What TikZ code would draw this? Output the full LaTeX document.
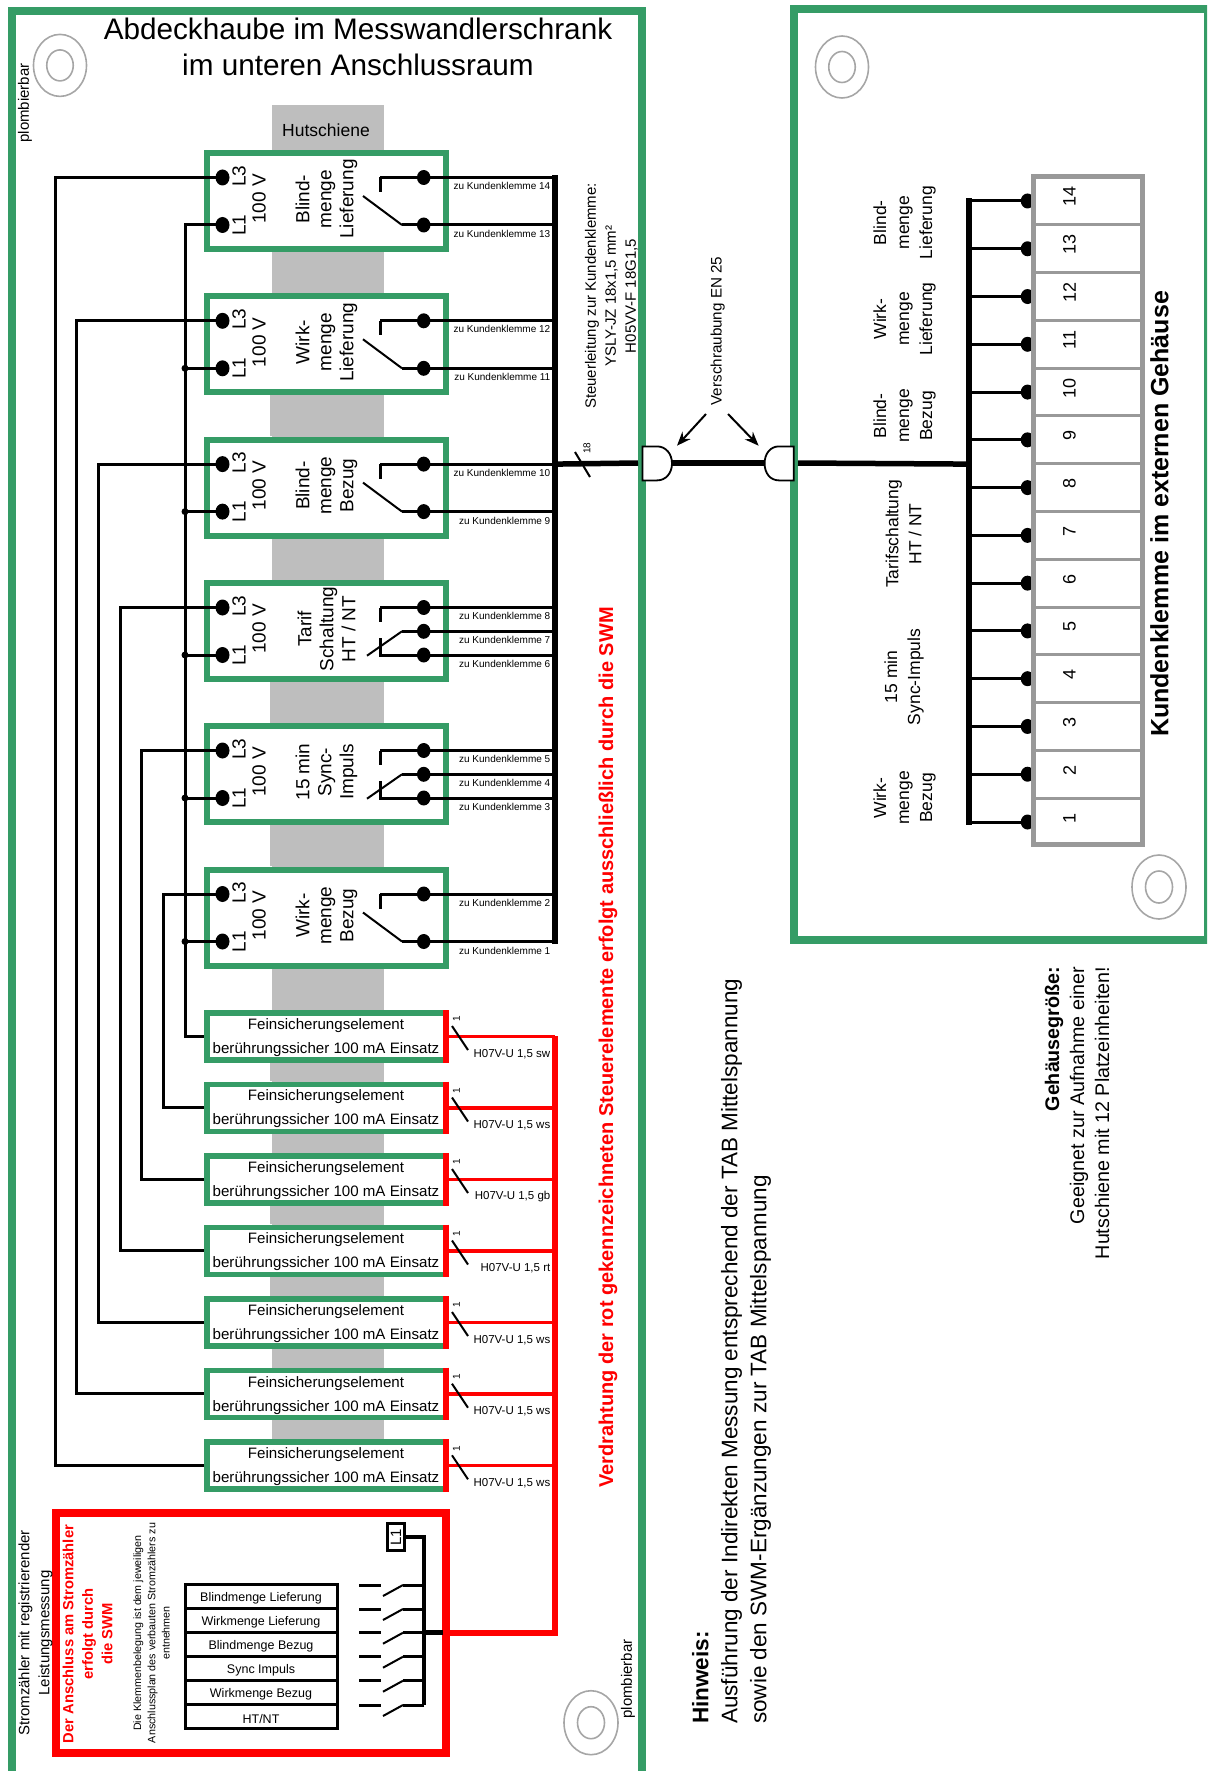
\documentclass[tikz,border=0pt]{standalone}
\usepackage{fontspec}
\setmainfont{Liberation Sans}
\usetikzlibrary{shapes.geometric,arrows.meta,calc}
\definecolor{grn}{HTML}{359C66}
\definecolor{rail}{HTML}{BEBEBE}
\definecolor{klgray}{HTML}{999999}
\definecolor{ringgray}{HTML}{A6A6A6}
\newcommand{\fsz}[2]{\fontsize{#1}{#2}\selectfont}
\tikzset{
  x=1pt,y=-1pt,
  every node/.style={inner sep=0pt},
  panel/.style={draw=grn,line width=8pt},
  blockbox/.style={draw=grn,fill=white,line width=6pt,minimum width=239pt,minimum height=96pt},
  fusebox/.style={draw=grn,fill=white,line width=5.5pt,minimum width=239pt,minimum height=47pt},
  fusetext/.style={align=center,font=\fsz{15.1}{24}},
  term/.style={ellipse,fill=black,minimum width=14pt,minimum height=16pt},
  rterm/.style={ellipse,fill=black,minimum width=13.5pt,minimum height=15pt},
  wire/.style={draw=black,line width=3pt,line join=miter},
  thinsw/.style={draw=black,line width=2pt},
  redwire/.style={draw=red,line width=3.5pt},
  vert/.style={rotate=90},
  vlabel/.style={rotate=90,font=\fsz{19}{22},align=center},
  ringo/.style={draw=ringgray,line width=1.6pt},
  zk/.style={anchor=east,font=\fsz{10}{12}},
  hz/.style={anchor=east,font=\fsz{11.5}{13}},
  rowbox/.style={draw=black,line width=3pt,minimum width=152pt,minimum height=24pt},
  rowtext/.style={font=\fsz{12.5}{14}},
  klemme/.style={draw=klgray,line width=3pt,minimum width=109pt,minimum height=47.77pt},
  group/.style={rotate=90,align=center,font=\fsz{17.5}{23}},
}
\begin{document}
\begin{tikzpicture}
\useasboundingbox (0,0) rectangle (1207,1771);
\clip (0,0) rectangle (1207,1771);
% panels
\draw[panel] (11.5,1785) -- (11.5,11.5) -- (642,11.5) -- (642,1785);
\draw[panel] (1207.5,9.5) -- (794,9.5) -- (794,940.3) -- (1207.5,940.3) -- cycle;
% rail
\fill[rail] (272,105) rectangle (384,1492);
\foreach \a/\b in {394/436,680/723,824/866,1062/1081,1205/1224,1277/1296}{\fill[rail] (269.5,\a) rectangle (272,\b);}
\node[font=\fsz{17.5}{20}] (hut) at (326,130) {Hutschiene};
% titles
\node[font=\fsz{29.7}{36},align=center] (title) at (358,47) {Abdeckhaube im Messwandlerschrank\\im unteren Anschlussraum};
% sealing points
\foreach \n/\cx/\cy/\rx/\ry in {a/60/65.4/26.5/31,b/591/1722.7/27/32,c/842/67/26.5/31,d/1159/887/27/32}{
  \coordinate (ring\n) at (\cx,\cy);
  \draw[ringo] (ring\n) ellipse [x radius=\rx pt,y radius=\ry pt];
  \draw[ringo] (ring\n) ellipse [x radius=\rx pt*0.5,y radius=\ry pt*0.5];
}
\node[vert,font=\fsz{15}{18}] (plomb1) at (25,103) {plombierbar};
\node[vert,font=\fsz{15}{18}] (plomb2) at (628,1679) {plombierbar};
% channel coordinates
\foreach \i/\cx in {1/55,2/76.5,3/98.4,4/120.4,5/141.6,6/163.7,7/185,8/555,9/969}{\coordinate (ch\i) at (\cx,0);}
% blocks
\foreach \i/\t/\txt in {1/150/{Blind-\\menge\\Lieferung},2/293.3/{Wirk-\\menge\\Lieferung},3/436.6/{Blind-\\menge\\Bezug},4/580/{Tarif\\Schaltung\\HT / NT},5/723/{15 min\\Sync-\\Impuls},6/866.5/{Wirk-\\menge\\Bezug}}{
  \node[blockbox] (b\i) at (326.5,\t+51) {};
  \node[vlabel] (t\i) at (326.5,\t+49) {\txt};
  \node[term] (b\i L3) at (222.5,\t+27.5) {};
  \node[term] (b\i L1) at (222.5,\t+75) {};
  \node[vert,font=\fsz{19}{22}] (lb\i a) at (239,\t+26) {L3};
  \node[vert,font=\fsz{19}{22}] (lb\i b) at (239,\t+75) {L1};
  \node[vert,font=\fsz{19}{22}] (lb\i c) at (259,\t+49) {100 V};
  \node[rterm] (b\i R3) at (423.7,\t+27.5) {};
  \node[rterm] (b\i R1) at (423.7,\t+75) {};
  \coordinate (sw\i) at (380,\t+27.5);
  \draw[wire] (sw\i) -- (b\i R3.center) -- (b\i R3.center -| ch8);
  \draw[wire] (sw\i) -- (380,\t+42);
}
% two contact relays
\foreach \i/\t/\hi/\lo in {1/150/14/13,2/293.3/12/11,3/436.6/10/9,6/866.5/2/1}{
  \coordinate (pv\i) at (402,\t+75);
  \draw[thinsw] (363,\t+46) -- (pv\i);
  \draw[wire] (pv\i) -- (b\i R1.center) -- (b\i R1.center -| ch8);
  \node[zk] (zk\hi) at (550.5,\t+36) {zu Kundenklemme \hi};
  \node[zk] (zk\lo) at (550.5,\t+84) {zu Kundenklemme \lo};
}
% three contact relays
\foreach \i/\t/\a/\b/\c in {4/580/8/7/6,5/723/5/4/3}{
  \node[rterm] (b\i R2) at (423.7,\t+51.3) {};
  \coordinate (pv\i) at (402,\t+51.3);
  \coordinate (st\i) at (380,\t+75);
  \draw[thinsw] (367,\t+75.7) -- (pv\i);
  \draw[wire] (pv\i) -- (b\i R2.center) -- (b\i R2.center -| ch8);
  \draw[wire] (380,\t+58) -- (st\i) -- (b\i R1.center) -- (b\i R1.center -| ch8);
  \node[zk] (zk\a) at (550.5,\t+35.5) {zu Kundenklemme \a};
  \node[zk] (zk\b) at (550.5,\t+59.5) {zu Kundenklemme \b};
  \node[zk] (zk\c) at (550.5,\t+83.5) {zu Kundenklemme \c};
}
% output bus
\draw[draw=black,line width=5.5pt,line cap=rect] (ch8 |- b1R3.center) -- (ch8 |- b6R1.center);
% fuses
\foreach \f/\t/\lab in {1/1010/sw,2/1081.5/ws,3/1153/gb,4/1224.5/rt,5/1296/ws,6/1367.7/ws,7/1439.3/ws}{
  \node[fusebox] (f\f) at (326.5,\t+26.25) {};
  \node[fusetext] (ft\f) at (326,\t+27.5) {Feinsicherungselement\\berührungssicher 100 mA Einsatz};
  \draw[draw=red,line width=6pt] (446,\t) -- (446,\t+52.5);
  \draw[redwire] (f\f.east) -- (f\f.east -| ch8);
  \draw[thinsw] (452,\t+16) -- (468,\t+40);
  \node[vert,font=\fsz{10}{12}] (one\f) at (456.5,\t+9) {1};
  \node[hz] (hz\f) at (550.5,\t+44) {H07V-U 1,5 \lab};
}
% wires L3 to fuses
\foreach \i/\f in {1/7,2/6,3/5,4/4,5/3,6/2}{
  \draw[wire] (b\i L3.center) -- (b\i L3.center -| ch\i) -- (ch\i |- f\f.west) -- (f\f.west);
}
\draw[wire] (b1L1.center) -- (b1L1.center -| ch7) -- (ch7 |- f1.west) -- (f1.west);
\foreach \i in {2,...,6}{
  \draw[wire] (b\i L1.center) -- (b\i L1.center -| ch7);
  \fill (b\i L1.center -| ch7) circle [radius=3.5pt];
}
% meter
\node[draw=red,line width=8pt,fill=white,minimum width=390.5pt,minimum height=240pt] (meter) at (250.75,1633) {};
\draw[draw=red,line width=5.5pt] (ch8 |- f1.east) -- (ch8 |- meter.east) -- (meter.east);
\node[draw=black,line width=3pt,minimum width=17pt,minimum height=27pt] (l1box) at (396,1537) {};
\node[vert,font=\fsz{15}{18}] (l1txt) at (396,1537) {L1};
\coordinate (mbT) at (424,1537);
\coordinate (mbB) at (424,1705);
\coordinate (mbE) at (443,1632.7);
\draw[draw=black,line width=4pt,line join=miter] (l1box.east) -- (mbT) -- (mbB);
\draw[draw=black,line width=5.5pt] (mbT |- mbE) -- (mbE);
\foreach \n/\y/\lab in {1/1596.7/{Blindmenge Lieferung},2/1620.7/{Wirkmenge Lieferung},3/1644.7/{Blindmenge Bezug},4/1668.7/{Sync Impuls},5/1692.7/{Wirkmenge Bezug},6/1716.7/{HT/NT}}{
  \node[rowbox] (row\n) at (261.5,\y) {};
  \node[rowtext] (rowt\n) at (261,\y+2) {\lab};
}
\foreach \n/\y in {1/1585,2/1609,3/1632.7,4/1656.7,5/1680.7,6/1705}{
  \coordinate (ms\n) at (403,\y);
  \draw[wire] (mbT |- ms\n) -- (ms\n);
  \draw[thinsw] (ms\n) -- (383,\y+11);
  \draw[wire] (359,\y) -- (381,\y);
}
\node[vert,font=\fsz{15}{20},align=center] (zaehl) at (35.5,1633) {Stromzähler mit registrierender\\Leistungsmessung};
\node[vert,text=red,font=\fsz{14.75}{19.5}\bfseries,align=center] (anschl) at (87.5,1634) {Der Anschluss am Stromzähler\\erfolgt durch\\die SWM};
\node[vert,font=\fsz{10.7}{14.2},align=center] (klemmen) at (151.5,1633) {Die Klemmenbelegung ist dem jeweiligen\\Anschlussplan des verbauten Stromzählers zu\\entnehmen};
% notes in the left panel
\node[vert,text=red,font=\fsz{19.98}{24}\bfseries] (verdr) at (608,1047.5) {Verdrahtung der rot gekennzeichneten Steuerelemente erfolgt ausschließlich durch die SWM};
\node[vert,font=\fsz{15}{20},align=center] (steuer) at (611.5,296) {Steuerleitung zur Kundenklemme:\\YSLY-JZ 18x1,5 mm²\\H05VV-F 18G1,5};
% cable
\coordinate (busc) at (ch8 |- b3R3.center);
\coordinate (conL) at (657,463);
\coordinate (conR) at (779,463);
\coordinate (kab) at (ch9 |- busc);
\draw[draw=black,line width=5.5pt] (busc) -- (638,463);
\draw[draw=black,line width=5.5pt] (conL) -- (conR);
\draw[draw=black,line width=5.5pt] (798,463) -- (kab);
\draw[thinsw] (575,452) -- (590,477);
\node[vert,font=\fsz{10}{12}] (n18) at (587,448) {18};
\draw[draw=black,fill=white,line width=1.8pt] (642.5,446.4) -- (657,446.4) .. controls (666,446.4) and (672,454) .. (672,463.4) .. controls (672,473) and (666,480.4) .. (657,480.4) -- (642.5,480.4) -- cycle;
\draw[draw=black,fill=white,line width=1.8pt] (793.8,446.4) -- (779,446.4) .. controls (770,446.4) and (764.6,454) .. (764.6,463.4) .. controls (764.6,473) and (770,480.4) .. (779,480.4) -- (793.8,480.4) -- cycle;
\node[vert,font=\fsz{15.2}{17}] (versch) at (717.6,331) {Verschraubung EN 25};
\coordinate (arL) at (706,414);
\coordinate (arR) at (728,414);
\draw[thinsw,-{Stealth[length=14pt,width=11pt]}] (arL) -- (677,445.7);
\draw[thinsw,-{Stealth[length=14pt,width=11pt]}] (arR) -- (758.6,445.7);
% Hinweis
\node[vert,anchor=west,align=left,font=\fsz{22.5}{29}] (hinw) at (731.5,1724) {{\bfseries Hinweis:}\\Ausführung der Indirekten Messung entsprechend der TAB Mittelspannung\\sowie den SWM-Ergänzungen zur TAB Mittelspannung};
% Gehaeuse note
\node[vert,anchor=east,align=right,font=\fsz{19.7}{25}] (geh) at (1077,966.6) {{\bfseries Gehäusegröße:}\\Geeignet zur Aufnahme einer\\Hutschiene mit 12 Platzeinheiten!};
% terminal strip
\foreach \n in {1,...,14}{
  \pgfmathsetmacro\yy{822-(\n-1)*47.77}
  \node[klemme] (k\n) at (1088,\yy) {};
  \node[rterm] (kd\n) at (1027.5,\yy) {};
  \node[vert,font=\fsz{18}{20}] (kn\n) at (1069.5,\yy-4) {\n};
}
\draw[draw=klgray,line width=5pt] (1033.5,176.5) rectangle (1142.5,844.5);
\foreach \n in {1,...,14}{ \draw[wire] (kd\n.center) -- (kd\n.center -| ch9); }
\draw[draw=black,line width=5.5pt,line cap=rect] (ch9 |- kd14.center) -- (ch9 |- kd1.center);
\node[vert,font=\fsz{25}{28}\bfseries] (kk) at (1159.5,514) {Kundenklemme im externen Gehäuse};
\node[group] (g1) at (904.5,222.7) {Blind-\\menge\\Lieferung};
\node[group] (g2) at (904.5,319) {Wirk-\\menge\\Lieferung};
\node[group] (g3) at (904.5,416) {Blind-\\menge\\Bezug};
\node[group] (g4) at (903.5,534) {Tarifschaltung\\HT / NT};
\node[group] (g5) at (904,677) {15 min\\Sync-Impuls};
\node[group] (g6) at (904.5,798) {Wirk-\\menge\\Bezug};
\end{tikzpicture}
\end{document}
